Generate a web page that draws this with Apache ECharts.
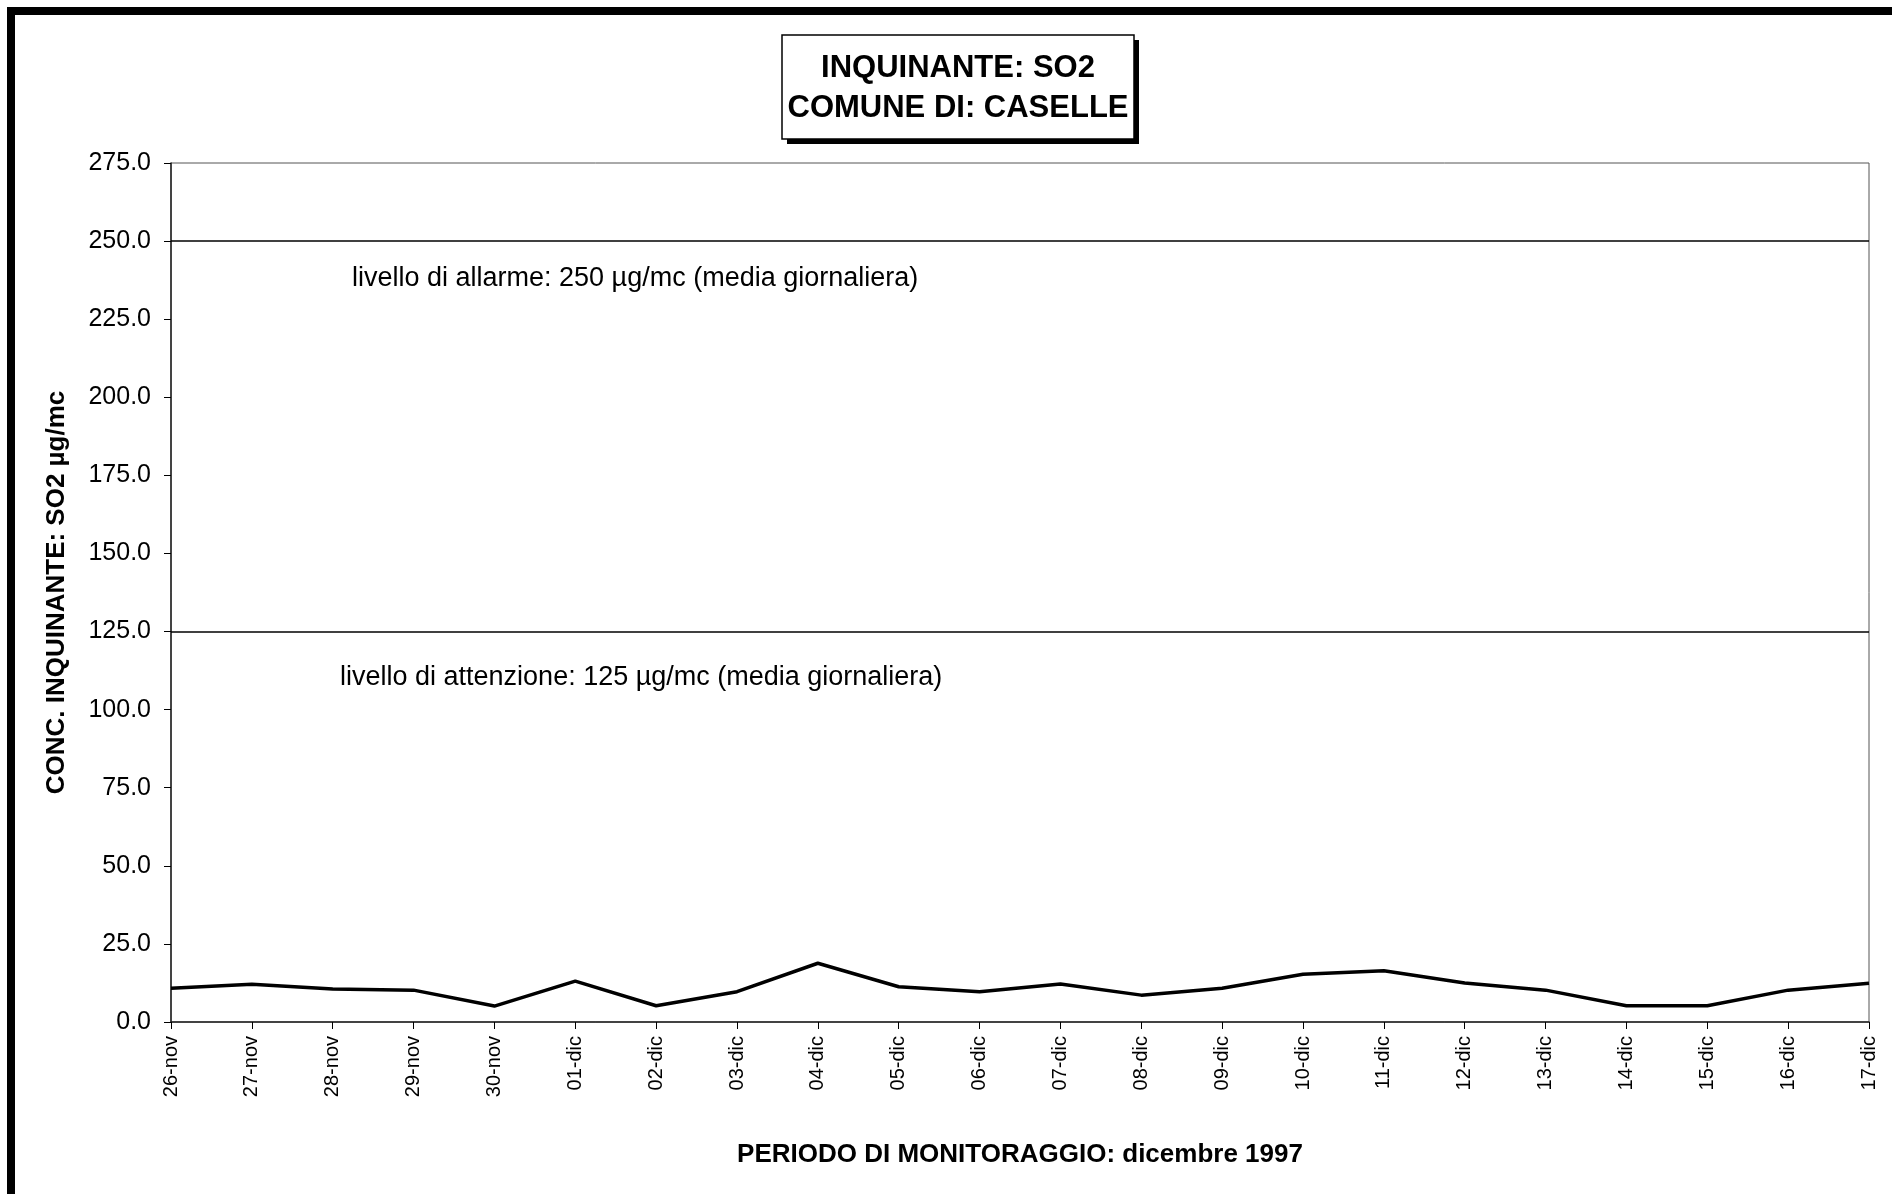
<!DOCTYPE html>
<html>
<head>
<meta charset="utf-8">
<script src="https://cdn.jsdelivr.net/npm/echarts@6/dist/echarts.min.js"></script>
<style>
  html, body { margin: 0; padding: 0; background: #fff; }
  #chart { width: 1892px; height: 1194px; }
</style>
</head>
<body>
<div id="chart"></div>
<script>
var chart = echarts.init(document.getElementById('chart'));

// giorni di monitoraggio
var giorni = ['26-nov', '27-nov', '28-nov', '29-nov', '30-nov',
    '01-dic', '02-dic', '03-dic', '04-dic', '05-dic', '06-dic', '07-dic',
    '08-dic', '09-dic', '10-dic', '11-dic', '12-dic', '13-dic', '14-dic',
    '15-dic', '16-dic', '17-dic'];

// concentrazione SO2 (µg/mc)
var so2 = [10.8, 12.1, 10.6, 10.2, 5.1, 13.1, 5.2, 9.7, 18.8, 11.3, 9.7,
    12.2, 8.6, 10.8, 15.3, 16.4, 12.5, 10.2, 5.2, 5.2, 10.2, 12.4];

var livelloAllarme = 250;
var livelloAttenzione = 125;

var font = 'Liberation Sans, Arial, sans-serif';

option = {
    animation: false,
    backgroundColor: '#fff',
    grid: {
        left: 171,
        top: 163,
        right: 23,
        bottom: 172,
        show: true,
        borderColor: '#555',
        borderWidth: 1
    },
    xAxis: {
        type: 'category',
        boundaryGap: false,
        data: giorni,
        name: 'PERIODO DI MONITORAGGIO: dicembre 1997',
        nameLocation: 'middle',
        nameGap: 120,
        nameTextStyle: {
            fontFamily: font,
            fontWeight: 'bold',
            fontSize: 26,
            color: '#000'
        },
        axisLine: { lineStyle: { color: '#222', width: 1.5 } },
        axisTick: { show: true, length: 7, lineStyle: { color: '#000' } },
        axisLabel: {
            rotate: 90,
            margin: 14,
            interval: 0,
            fontFamily: font,
            fontSize: 20,
            color: '#000'
        },
        splitLine: { show: false }
    },
    yAxis: {
        type: 'value',
        min: 0,
        max: 275,
        interval: 25,
        name: 'CONC. INQUINANTE: SO2 µg/mc',
        nameLocation: 'middle',
        nameGap: 101,
        nameTextStyle: {
            fontFamily: font,
            fontWeight: 'bold',
            fontSize: 26,
            color: '#000'
        },
        axisLine: { show: true, lineStyle: { color: '#222', width: 1.5 } },
        axisTick: { show: true, length: 7, lineStyle: { color: '#000' } },
        axisLabel: {
            margin: 20,
            fontFamily: font,
            fontSize: 25,
            color: '#000',
            formatter: function (v) { return v.toFixed(1); }
        },
        splitLine: { show: false }
    },
    series: [{
        name: 'SO2',
        type: 'line',
        data: so2,
        symbol: 'none',
        lineStyle: { color: '#000', width: 3.5 },
        markLine: {
            silent: true,
            symbol: 'none',
            label: { show: false },
            lineStyle: { color: '#000', width: 1.5, type: 'solid' },
            data: [{ yAxis: livelloAllarme }, { yAxis: livelloAttenzione }]
        }
    }],
    graphic: [
        // cornice esterna
        {
            type: 'rect',
            shape: { x: 11, y: 11, width: 2000, height: 1400 },
            style: { fill: 'none', stroke: '#000', lineWidth: 8 }
        },
        // riquadro del titolo con ombra
        {
            type: 'rect',
            shape: { x: 787, y: 40, width: 352, height: 104 },
            style: { fill: '#000' }
        },
        {
            type: 'rect',
            shape: { x: 782, y: 35, width: 352, height: 104 },
            style: { fill: '#fff', stroke: '#000', lineWidth: 1.5 }
        },
        {
            type: 'text',
            x: 958,
            y: 88,
            style: {
                text: 'INQUINANTE: SO2\nCOMUNE DI: CASELLE',
                font: 'bold 31px ' + font,
                fill: '#000',
                align: 'center',
                verticalAlign: 'middle',
                lineHeight: 40
            }
        },
        {
            type: 'text',
            x: 352,
            y: 279,
            style: {
                text: 'livello di allarme: 250 µg/mc (media giornaliera)',
                font: '27px ' + font,
                fill: '#000',
                verticalAlign: 'middle'
            }
        },
        {
            type: 'text',
            x: 340,
            y: 678,
            style: {
                text: 'livello di attenzione: 125 µg/mc (media giornaliera)',
                font: '27px ' + font,
                fill: '#000',
                verticalAlign: 'middle'
            }
        }
    ]
};

chart.setOption(option);
</script>
</body>
</html>
